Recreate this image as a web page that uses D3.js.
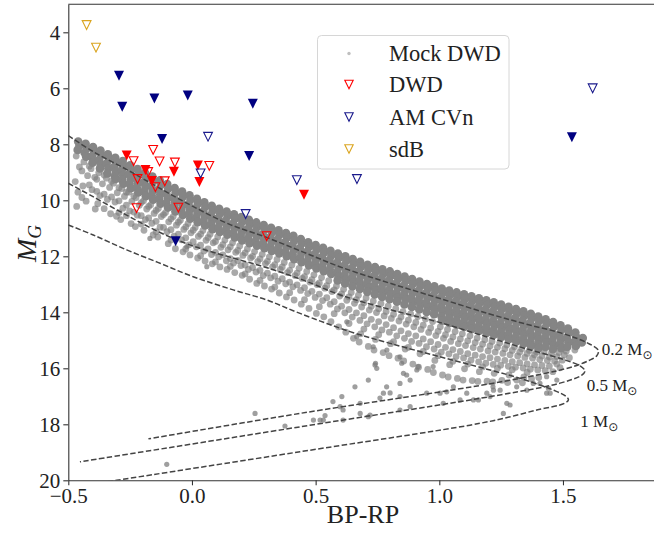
<!DOCTYPE html>
<html>
<head>
<meta charset="utf-8">
<script src="https://cdn.jsdelivr.net/npm/d3@7"></script>
<style>
  body { margin: 0; background: #fff; }
  svg { display: block; }
  text { font-family: "Liberation Serif", "DejaVu Serif", serif; }
</style>
</head>
<body>
<svg width="654" height="537"></svg>
<script>
// ---- data: [BP-RP, M_G] ----
var xTicks = [-0.5, 0.0, 0.5, 1.0, 1.5];
var yTicks = [4, 6, 8, 10, 12, 14, 16, 18, 20];

var sdB = [[-0.426, 3.74], [-0.388, 4.55]];
var amcvnFilled = [[-0.295, 5.55], [-0.282, 6.66], [-0.152, 6.36], [-0.017, 6.26], [0.246, 6.55],
  [-0.121, 7.81], [0.231, 8.42], [-0.066, 11.46], [1.536, 7.75]];
var amcvnOpen = [[1.62, 6.0], [0.667, 9.24], [0.065, 7.73], [0.035, 9.04], [0.217, 10.49], [0.424, 9.28]];
var dwdFilled = [[-0.264, 8.40], [-0.188, 8.92], [-0.162, 9.31], [-0.073, 8.98], [0.024, 8.76],
  [0.030, 9.35], [0.453, 9.80]];
var dwdOpen = [[-0.236, 8.60], [-0.157, 8.20], [-0.131, 8.61], [-0.069, 8.65], [0.070, 8.77],
  [-0.220, 9.24], [-0.110, 9.32], [-0.148, 9.53], [-0.224, 10.28], [-0.055, 10.26],
  [0.302, 11.28], [-0.177, 8.99]];

// cooling tracks (dashed)
var track02 = [[-0.5, 7.69], [-0.40, 8.26], [-0.26, 8.92], [-0.13, 9.57], [0.0, 10.2], [0.15, 10.85],
  [0.30, 11.32], [0.45, 11.85], [0.60, 12.38], [0.80, 12.96], [1.0, 13.5], [1.2, 14.05], [1.35, 14.42],
  [1.5, 14.76], [1.6, 15.1], [1.643, 15.36], [1.636, 15.56], [1.605, 15.72], [1.529, 15.97],
  [1.245, 16.49], [0.437, 17.61], [-0.176, 18.52]];
var track05 = [[-0.5, 9.39], [-0.40, 9.87], [-0.264, 10.53], [-0.129, 11.15], [0.0, 11.62], [0.15, 12.02],
  [0.30, 12.4], [0.45, 12.85], [0.60, 13.38], [0.80, 13.9], [1.0, 14.36], [1.2, 14.9], [1.35, 15.3],
  [1.5, 15.68], [1.572, 15.93], [1.589, 16.10], [1.575, 16.25], [1.488, 16.53], [1.245, 16.95],
  [0.437, 18.09], [-0.453, 19.34]];
var track10 = [[-0.5, 10.88], [-0.399, 11.24], [-0.264, 11.77], [-0.129, 12.25], [0.005, 12.73],
  [0.167, 13.20], [0.302, 13.56], [0.437, 14.04], [0.639, 14.69], [0.801, 15.11], [1.003, 15.59],
  [1.205, 16.06], [1.327, 16.36], [1.461, 16.78], [1.512, 17.0], [1.522, 17.13], [1.506, 17.25],
  [1.394, 17.49], [1.259, 17.79], [1.124, 18.03], [0.437, 18.98], [-0.304, 20.0], [-0.41, 20.15]];
var trackLabels = [["0.2", 1.657, 15.52], ["0.5", 1.596, 16.81], ["1", 1.570, 18.09]];

// mock DWD population: dense band
var mockCore = [
  [-0.46,7.9],[-0.455,8.05],[-0.462,8.2],
  [-0.43,7.98],[-0.425,8.14],[-0.434,8.3],[-0.428,8.44],
  [-0.40,8.1],[-0.395,8.27],[-0.405,8.43],[-0.398,8.6],[-0.402,8.66],
  [-0.37,8.22],[-0.366,8.38],[-0.375,8.55],[-0.368,8.72],[-0.372,8.86],
  [-0.34,8.36],[-0.336,8.52],[-0.345,8.69],[-0.338,8.86],[-0.342,9.04],
  [-0.31,8.48],[-0.305,8.64],[-0.314,8.8],[-0.307,8.98],[-0.312,9.14],[-0.309,9.24],
  [-0.28,8.6],[-0.276,8.77],[-0.284,8.93],[-0.278,9.1],[-0.283,9.27],[-0.277,9.41],
  [-0.25,8.75],[-0.246,8.91],[-0.255,9.07],[-0.248,9.24],[-0.252,9.41],[-0.247,9.57],
  [-0.22,8.88],[-0.216,9.04],[-0.224,9.21],[-0.218,9.38],[-0.223,9.55],[-0.217,9.72],
  [-0.19,9.02],[-0.186,9.18],[-0.194,9.35],[-0.188,9.52],[-0.193,9.68],[-0.187,9.85],
  [-0.16,9.15],[-0.156,9.31],[-0.164,9.48],[-0.158,9.65],[-0.163,9.82],[-0.157,9.98],
  [-0.13,9.29],[-0.126,9.45],[-0.134,9.62],[-0.128,9.78],[-0.133,9.95],[-0.127,10.12],
  [-0.10,9.42],[-0.096,9.58],[-0.104,9.75],[-0.098,9.92],[-0.103,10.09],[-0.097,10.26],
  [-0.07,9.56],[-0.066,9.72],[-0.074,9.89],[-0.068,10.06],[-0.073,10.23],[-0.067,10.4],
  [-0.04,9.69],[-0.036,9.85],[-0.044,10.02],[-0.038,10.18],[-0.043,10.35],[-0.037,10.52],
  [-0.01,9.82],[-0.006,9.98],[-0.014,10.15],[-0.008,10.32],[-0.013,10.49],[-0.007,10.66],
  [0.02,9.95],[0.024,10.11],[0.016,10.28],[0.022,10.45],[0.017,10.62],[0.023,10.78],
  [0.05,10.07],[0.054,10.23],[0.046,10.4],[0.052,10.57],[0.047,10.74],[0.053,10.9],
  [0.08,10.2],[0.084,10.36],[0.076,10.53],[0.082,10.7],[0.077,10.87],[0.083,11.03],
  [0.11,10.3],[0.114,10.46],[0.106,10.63],[0.112,10.8],[0.107,10.97],[0.113,11.13],
  [0.14,10.4],[0.144,10.56],[0.136,10.73],[0.142,10.9],[0.137,11.07],[0.143,11.23],
  [0.17,10.5],[0.174,10.66],[0.166,10.83],[0.172,11.0],[0.167,11.17],[0.173,11.33],
  [0.20,10.6],[0.204,10.76],[0.196,10.93],[0.202,11.1],[0.197,11.27],[0.203,11.43],
  [0.23,10.7],[0.234,10.86],[0.226,11.03],[0.232,11.2],[0.227,11.37],[0.233,11.53],
  [0.26,10.79],[0.264,10.95],[0.256,11.12],[0.262,11.29],[0.257,11.46],[0.263,11.62],
  [0.29,10.88],[0.294,11.04],[0.286,11.21],[0.292,11.38],[0.287,11.55],[0.293,11.71],
  [0.32,10.98],[0.324,11.14],[0.316,11.31],[0.322,11.48],[0.317,11.65],[0.323,11.81],
  [0.35,11.07],[0.354,11.23],[0.346,11.4],[0.352,11.57],[0.347,11.74],[0.353,11.9],
  [0.38,11.17],[0.384,11.33],[0.376,11.5],[0.382,11.67],[0.377,11.84],[0.383,12.0],
  [0.41,11.27],[0.414,11.43],[0.406,11.6],[0.412,11.77],[0.407,11.94],[0.413,12.1],
  [0.44,11.38],[0.444,11.54],[0.436,11.71],[0.442,11.88],[0.437,12.05],[0.443,12.21],
  [0.47,11.5],[0.474,11.66],[0.466,11.83],[0.472,12.0],[0.467,12.17],[0.473,12.33],
  [0.50,11.6],[0.504,11.76],[0.496,11.93],[0.502,12.1],[0.497,12.27],[0.503,12.43],
  [0.53,11.7],[0.534,11.86],[0.526,12.03],[0.532,12.2],[0.527,12.37],[0.533,12.53],
  [0.56,11.8],[0.564,11.96],[0.556,12.13],[0.562,12.3],[0.557,12.47],[0.563,12.63],
  [0.59,11.9],[0.594,12.06],[0.586,12.23],[0.592,12.4],[0.587,12.57],[0.593,12.73],[0.589,12.86],
  [0.62,12.0],[0.624,12.16],[0.616,12.33],[0.622,12.5],[0.617,12.67],[0.623,12.83],[0.619,12.97],
  [0.65,12.1],[0.654,12.26],[0.646,12.43],[0.652,12.6],[0.647,12.77],[0.653,12.93],[0.649,13.07],
  [0.68,12.2],[0.684,12.36],[0.676,12.53],[0.682,12.7],[0.677,12.87],[0.683,13.03],[0.679,13.17],
  [0.71,12.3],[0.714,12.46],[0.706,12.63],[0.712,12.8],[0.707,12.97],[0.713,13.13],[0.709,13.27],
  [0.74,12.38],[0.744,12.54],[0.736,12.71],[0.742,12.88],[0.737,13.05],[0.743,13.21],[0.739,13.36],
  [0.77,12.46],[0.774,12.62],[0.766,12.79],[0.772,12.96],[0.767,13.13],[0.773,13.29],[0.769,13.45],
  [0.80,12.54],[0.804,12.7],[0.796,12.87],[0.802,13.04],[0.797,13.21],[0.803,13.37],[0.799,13.53],
  [0.83,12.63],[0.834,12.79],[0.826,12.96],[0.832,13.13],[0.827,13.3],[0.833,13.46],[0.829,13.62],
  [0.86,12.72],[0.864,12.88],[0.856,13.05],[0.862,13.22],[0.857,13.39],[0.863,13.55],[0.859,13.72],
  [0.89,12.81],[0.894,12.97],[0.886,13.14],[0.892,13.31],[0.887,13.48],[0.893,13.64],[0.889,13.81],
  [0.92,12.9],[0.924,13.06],[0.916,13.23],[0.922,13.4],[0.917,13.57],[0.923,13.73],[0.919,13.9],
  [0.95,12.99],[0.954,13.15],[0.946,13.32],[0.952,13.49],[0.947,13.66],[0.953,13.82],[0.949,13.99],
  [0.98,13.07],[0.984,13.23],[0.976,13.4],[0.982,13.57],[0.977,13.74],[0.983,13.9],[0.979,14.07],
  [1.01,13.15],[1.014,13.31],[1.006,13.48],[1.012,13.65],[1.007,13.82],[1.013,13.98],[1.009,14.15],[1.011,14.3],
  [1.04,13.22],[1.044,13.38],[1.036,13.55],[1.042,13.72],[1.037,13.89],[1.043,14.05],[1.039,14.22],[1.041,14.38],
  [1.07,13.29],[1.074,13.45],[1.066,13.62],[1.072,13.79],[1.067,13.96],[1.073,14.12],[1.069,14.29],[1.071,14.45],
  [1.10,13.36],[1.104,13.52],[1.096,13.69],[1.102,13.86],[1.097,14.03],[1.103,14.19],[1.099,14.36],[1.101,14.52],
  [1.13,13.43],[1.134,13.59],[1.126,13.76],[1.132,13.93],[1.127,14.1],[1.133,14.26],[1.129,14.43],[1.131,14.6],
  [1.16,13.5],[1.164,13.66],[1.156,13.83],[1.162,14.0],[1.157,14.17],[1.163,14.33],[1.159,14.5],[1.161,14.67],
  [1.19,13.57],[1.194,13.73],[1.186,13.9],[1.192,14.07],[1.187,14.24],[1.193,14.4],[1.189,14.57],[1.191,14.74],
  [1.22,13.64],[1.224,13.8],[1.216,13.97],[1.222,14.14],[1.217,14.31],[1.223,14.47],[1.219,14.64],[1.221,14.8],
  [1.25,13.72],[1.254,13.88],[1.246,14.05],[1.252,14.22],[1.247,14.39],[1.253,14.55],[1.249,14.72],[1.251,14.88],
  [1.28,13.8],[1.284,13.96],[1.276,14.13],[1.282,14.3],[1.277,14.47],[1.283,14.63],[1.279,14.8],[1.281,14.96],
  [1.31,13.88],[1.314,14.04],[1.306,14.21],[1.312,14.38],[1.307,14.55],[1.313,14.71],[1.309,14.88],[1.311,15.04],
  [1.34,13.96],[1.344,14.12],[1.336,14.29],[1.342,14.46],[1.337,14.63],[1.343,14.79],[1.339,14.96],[1.341,15.12],
  [1.37,14.05],[1.374,14.21],[1.366,14.38],[1.372,14.55],[1.367,14.72],[1.373,14.88],[1.369,15.05],[1.371,15.2],
  [1.40,14.15],[1.404,14.31],[1.396,14.48],[1.402,14.65],[1.397,14.82],[1.403,14.98],[1.399,15.15],[1.401,15.28],
  [1.43,14.25],[1.434,14.41],[1.426,14.58],[1.432,14.75],[1.427,14.92],[1.433,15.08],[1.429,15.24],
  [1.46,14.35],[1.464,14.51],[1.456,14.68],[1.462,14.85],[1.457,15.02],[1.463,15.18],[1.459,15.32],
  [1.49,14.46],[1.494,14.62],[1.486,14.79],[1.492,14.96],[1.487,15.13],[1.493,15.28],
  [1.52,14.58],[1.524,14.74],[1.516,14.91],[1.522,15.08],[1.517,15.24],
  [1.55,14.72],[1.554,14.88],[1.546,15.05],[1.552,15.2],
  [1.58,14.92],[1.576,15.08]
];

// mock DWD population: looser halo under the band
var mockHalo = [
  [-0.468,8.42],[-0.455,8.81],[-0.472,9.33],[-0.461,9.71],[-0.466,10.22],
  [-0.437,8.63],[-0.422,9.12],[-0.441,9.49],[-0.428,10.03],
  [-0.408,8.87],[-0.393,9.18],[-0.404,9.62],[-0.391,10.31],
  [-0.377,9.02],[-0.362,9.41],[-0.372,9.83],[-0.381,10.12],
  [-0.346,9.21],[-0.333,9.54],[-0.342,9.97],[-0.329,10.48],
  [-0.317,9.39],[-0.302,9.73],[-0.311,10.06],[-0.305,10.57],
  [-0.284,9.58],[-0.273,9.86],[-0.279,10.28],[-0.288,10.69],
  [-0.256,9.71],[-0.243,10.04],[-0.252,10.38],[-0.246,10.83],
  [-0.226,9.9],[-0.213,10.18],[-0.221,10.53],[-0.229,10.94],
  [-0.196,10.02],[-0.183,10.31],[-0.188,10.69],[-0.194,11.07],
  [-0.167,10.16],[-0.153,10.47],[-0.162,10.82],[-0.157,11.24],
  [-0.136,10.29],[-0.124,10.58],[-0.129,10.96],[-0.138,11.31],
  [-0.107,10.44],[-0.094,10.77],[-0.101,11.12],[-0.096,11.55],
  [-0.076,10.58],[-0.063,10.89],[-0.072,11.28],[-0.067,11.73],
  [-0.047,10.71],[-0.033,11.04],[-0.042,11.41],[-0.036,11.84],
  [-0.016,10.83],[-0.004,11.16],[-0.012,11.59],[-0.008,11.95],
  [0.013,10.97],[0.026,11.29],[0.018,11.66],[0.023,12.06],
  [0.044,11.08],[0.057,11.43],[0.048,11.81],[0.053,12.17],
  [0.073,11.21],[0.086,11.52],[0.079,11.94],[0.082,12.27],
  [0.104,11.31],[0.117,11.68],[0.108,12.02],[0.113,12.38],
  [0.133,11.42],[0.146,11.77],[0.139,12.16],[0.142,12.47],
  [0.164,11.52],[0.177,11.86],[0.168,12.24],[0.173,12.58],
  [0.193,11.63],[0.206,11.97],[0.198,12.33],[0.203,12.68],
  [0.224,11.74],[0.237,12.06],[0.228,12.47],[0.233,12.82],
  [0.253,11.83],[0.266,12.19],[0.259,12.56],[0.262,12.97],
  [0.284,11.93],[0.297,12.26],[0.288,12.69],[0.293,13.06],
  [0.313,12.02],[0.326,12.38],[0.318,12.77],[0.322,13.17],
  [0.344,12.11],[0.357,12.47],[0.348,12.89],[0.353,13.31],
  [0.373,12.22],[0.386,12.58],[0.379,12.98],[0.382,13.45],
  [0.404,12.31],[0.417,12.69],[0.408,13.09],[0.413,13.56],
  [0.433,12.43],[0.446,12.79],[0.439,13.22],[0.442,13.71],
  [0.464,12.54],[0.477,12.92],[0.468,13.33],[0.473,13.86],
  [0.493,12.66],[0.506,13.01],[0.498,13.47],[0.503,14.04],
  [0.524,12.76],[0.537,13.14],[0.528,13.58],[0.533,14.16],
  [0.553,12.87],[0.566,13.26],[0.559,13.71],[0.562,14.33],
  [0.584,13.06],[0.597,13.42],[0.588,13.88],[0.593,14.52],
  [0.613,13.18],[0.626,13.57],[0.618,14.02],[0.622,14.71],
  [0.644,13.29],[0.657,13.68],[0.648,14.17],[0.653,14.93],
  [0.673,13.39],[0.686,13.81],[0.679,14.29],[0.682,14.77],[0.676,15.06],
  [0.704,13.49],[0.717,13.92],[0.708,14.41],[0.713,15.22],
  [0.733,13.6],[0.746,14.01],[0.739,14.52],[0.742,14.97],[0.736,15.35],
  [0.764,13.69],[0.777,14.13],[0.768,14.63],[0.773,15.44],
  [0.793,13.78],[0.806,14.22],[0.798,14.71],[0.803,15.12],[0.797,15.55],
  [0.824,13.87],[0.837,14.31],[0.828,14.84],[0.833,15.64],
  [0.853,13.98],[0.866,14.42],[0.859,14.93],[0.862,15.31],[0.856,15.74],
  [0.884,14.06],[0.897,14.52],[0.888,15.04],[0.893,15.85],
  [0.913,14.15],[0.926,14.61],[0.918,15.11],[0.922,15.48],[0.916,15.96],
  [0.944,14.24],[0.957,14.72],[0.948,15.23],[0.953,16.04],
  [0.973,14.33],[0.986,14.83],[0.979,15.31],[0.982,15.72],[0.976,16.15],
  [1.004,14.52],[1.017,14.93],[1.008,15.42],[1.013,16.24],
  [1.033,14.61],[1.046,15.04],[1.039,15.49],[1.042,15.87],[1.036,16.31],
  [1.064,14.69],[1.077,15.12],[1.068,15.58],[1.073,16.36],
  [1.093,14.77],[1.106,15.19],[1.098,15.63],[1.102,16.02],[1.096,16.42],
  [1.124,14.84],[1.137,15.26],[1.128,15.71],[1.133,16.44],
  [1.153,14.92],[1.166,15.31],[1.159,15.77],[1.162,16.12],[1.156,16.47],
  [1.184,14.98],[1.197,15.38],[1.188,15.82],[1.193,16.46],
  [1.213,15.04],[1.226,15.42],[1.218,15.86],[1.222,16.18],[1.216,16.49],
  [1.244,15.1],[1.257,15.47],[1.248,15.89],[1.253,16.43],
  [1.273,15.17],[1.286,15.52],[1.279,15.93],[1.282,16.24],[1.276,16.51],
  [1.304,15.23],[1.317,15.56],[1.308,15.96],[1.313,16.42],
  [1.333,15.3],[1.346,15.61],[1.339,15.99],[1.342,16.31],[1.336,16.52],
  [1.364,15.36],[1.377,15.64],[1.368,16.03],[1.373,16.38],
  [1.393,15.42],[1.406,15.69],[1.398,16.06],[1.402,16.33],
  [1.424,15.41],[1.437,15.72],[1.428,16.08],
  [1.453,15.46],[1.466,15.74],[1.459,16.12],
  [1.484,15.44],[1.497,15.71],[1.488,15.98],
  [1.513,15.39],[1.526,15.62],
  [1.548,15.35]
];

// mock DWD population: halo points between the halo columns above
var mockHaloFill = [
  [-0.445,8.95],[-0.445,9.9],[-0.415,8.78],[-0.415,9.45],[-0.385,9.25],[-0.385,9.68],
  [-0.355,9.1],[-0.355,9.78],[-0.355,10.3],[-0.325,9.32],[-0.325,9.88],
  [-0.295,9.55],[-0.295,10.02],[-0.295,10.44],[-0.265,9.71],[-0.265,10.17],[-0.265,10.55],
  [-0.235,9.85],[-0.235,10.42],[-0.205,10.08],[-0.205,10.55],[-0.205,10.85],
  [-0.175,10.22],[-0.175,10.63],[-0.145,10.36],[-0.145,10.75],[-0.145,11.12],
  [-0.115,10.51],[-0.115,10.97],[-0.085,10.66],[-0.085,11.05],[-0.085,11.42],
  [-0.055,10.78],[-0.055,11.21],[-0.025,10.95],[-0.025,11.34],[-0.025,11.74],
  [0.005,11.07],[0.005,11.48],[0.035,11.21],[0.035,11.6],[0.035,11.98],
  [0.065,11.33],[0.065,11.74],[0.095,11.47],[0.095,11.86],[0.095,12.2],
  [0.125,11.58],[0.125,11.95],[0.155,11.66],[0.155,12.08],[0.155,12.36],
  [0.185,11.79],[0.185,12.15],[0.215,11.88],[0.215,12.31],[0.215,12.63],
  [0.245,12.0],[0.245,12.4],[0.275,12.09],[0.275,12.5],[0.275,12.86],
  [0.305,12.18],[0.305,12.6],[0.335,12.3],[0.335,12.71],[0.335,13.1],
  [0.365,12.38],[0.365,12.8],[0.395,12.5],[0.395,12.92],[0.395,13.3],
  [0.425,12.6],[0.425,13.02],[0.455,12.73],[0.455,13.12],[0.455,13.55],
  [0.485,12.83],[0.485,13.25],[0.515,12.95],[0.515,13.35],[0.515,13.8],
  [0.545,13.05],[0.545,13.48],[0.575,13.2],[0.575,13.62],[0.575,14.05],
  [0.605,13.34],[0.605,13.78],[0.635,13.45],[0.635,13.9],[0.635,14.4],
  [0.665,13.55],[0.665,14.02],[0.695,13.66],[0.695,14.12],[0.695,14.6],
  [0.725,13.78],[0.725,14.25],[0.755,13.87],[0.755,14.33],[0.755,14.8],
  [0.785,13.97],[0.785,14.44],[0.815,14.07],[0.815,14.55],[0.815,15.05],
  [0.845,14.17],[0.845,14.66],[0.875,14.28],[0.875,14.76],[0.875,15.25],
  [0.905,14.36],[0.905,14.84],[0.935,14.46],[0.935,14.95],[0.935,15.4],
  [0.965,14.56],[0.965,15.05],[0.995,14.68],[0.995,15.15],[0.995,15.55],
  [1.025,14.8],[1.025,15.25],[1.055,14.88],[1.055,15.33],[1.055,15.75],
  [1.085,14.95],[1.085,15.4],[1.115,15.02],[1.115,15.48],[1.115,15.85],
  [1.145,15.08],[1.145,15.53],[1.175,15.14],[1.175,15.58],[1.175,15.95],
  [1.205,15.2],[1.205,15.62],[1.235,15.25],[1.235,15.67],[1.235,16.0],
  [1.265,15.3],[1.265,15.72],[1.295,15.36],[1.295,15.76],[1.295,16.05],
  [1.325,15.42],[1.325,15.8],[1.355,15.47],[1.355,15.84],[1.355,16.15],
  [1.385,15.52],[1.385,15.88],[1.415,15.56],[1.415,15.9],[1.445,15.6],[1.445,15.92],
  [1.475,15.58],[1.475,15.85],[1.505,15.52]
];

// mock DWD population: scattered faint stragglers
var mockTail = [
  [-0.17,11.36],[-0.021,11.66],[0.06,12.37],[0.742,15.82],[0.747,16.0],[0.713,16.42],[0.659,16.66],
  [0.606,17.01],[0.599,17.37],[0.531,17.85],[0.68,17.25],[0.68,17.61],[0.713,17.73],[0.787,16.66],
  [0.774,16.89],[0.841,16.54],[0.882,16.42],[0.855,16.18],[0.915,15.94],[0.841,17.01],[0.882,17.37],
  [0.841,17.49],[0.949,16.89],[1.016,17.25],[1.003,16.89],[1.057,16.66],[1.111,16.89],[1.084,17.13],
  [1.138,17.13],[1.192,16.89],[1.246,16.78],[1.259,17.61],[1.273,17.25],[1.313,16.66],[1.38,16.54],
  [1.434,16.89],[1.441,16.71],[1.475,16.42],[1.434,16.3],[0.57,17.19],[0.611,17.49],[0.611,17.85],
  [0.72,17.67],[0.76,17.06],[0.801,16.88],[0.868,16.24],[0.909,16.06],[0.975,15.94],[1.03,16.84],
  [1.217,16.66],[0.255,17.61],[0.376,18.06],[-0.102,19.43],[0.518,17.85],[0.538,17.69],[1.286,17.31],
  [1.448,16.89],[1.407,16.54],[1.354,16.78],[1.219,16.78],[1.205,17.01],[1.158,17.13],[0.733,15.23],
  [0.841,15.59],[0.848,15.82],[0.74,15.88],[0.788,15.35],[0.666,14.87],[0.626,14.34],[0.491,17.85]
];

// ---- chart ----
var svg = d3.select("svg"),
    plotLeft = 68.3, plotRight = 654, plotTop = 4.3, plotBottom = 480.3;

var x = d3.scaleLinear().domain([-0.5, 1.868]).range([plotLeft, plotRight]),
    y = d3.scaleLinear().domain([3, 20]).range([plotTop, plotBottom]);

svg.append("defs").append("clipPath").attr("id", "plotclip")
  .append("rect").attr("x", plotLeft).attr("y", plotTop)
  .attr("width", plotRight - plotLeft).attr("height", plotBottom - plotTop);

var plot = svg.append("g").attr("clip-path", "url(#plotclip)");

// mock population: band drawn with broader dots so the dense core reads as solid
function mockDots(data, r, op, color) {
  plot.append("g").selectAll("circle")
    .data(data)
    .enter().append("circle")
      .attr("cx", function(d) { return x(d[0]); })
      .attr("cy", function(d) { return y(d[1]); })
      .attr("r", r)
      .attr("fill", color)
      .attr("fill-opacity", op);
}
mockDots(mockHalo, 3.4, 0.68, "#808080");
mockDots(mockHaloFill, 3.4, 0.68, "#808080");
mockDots(mockTail, 2.6, 0.72, "#7a7a7a");
mockDots(mockCore, 4.3, 1, "#858585");

// tracks
var line = d3.line()
    .x(function(d) { return x(d[0]); })
    .y(function(d) { return y(d[1]); })
    .curve(d3.curveCatmullRom.alpha(0.5));

[track02, track05, track10].forEach(function(t) {
  plot.append("path")
    .attr("d", line(t))
    .attr("fill", "none")
    .attr("stroke", "#444")
    .attr("stroke-width", 1.5)
    .attr("stroke-dasharray", "5.5,2.4");
});

// triangle-down marker
function tri(s) {
  return function(d) {
    var cx = x(d[0]), cy = y(d[1]), h = s / 2;
    return "M" + (cx - h) + "," + (cy - h) + "L" + (cx + h) + "," + (cy - h) + "L" + cx + "," + (cy + h) + "Z";
  };
}

function openMarks(data, color) {
  plot.append("g").selectAll("path").data(data).enter().append("path")
    .attr("d", tri(8.8))
    .attr("fill", "none")
    .attr("stroke", color)
    .attr("stroke-width", 1.1);
}
function filledMarks(data, color) {
  plot.append("g").selectAll("path").data(data).enter().append("path")
    .attr("d", tri(10))
    .attr("fill", color);
}

openMarks(dwdOpen, "#ff0000");
filledMarks(dwdFilled, "#ff0000");
openMarks(amcvnOpen, "#1a1a8c");
filledMarks(amcvnFilled, "#000080");
openMarks(sdB, "#daa520");

// track labels
trackLabels.forEach(function(l) {
  var t = svg.append("text")
    .attr("x", x(l[1]))
    .attr("y", y(l[2]))
    .attr("font-size", 17)
    .attr("fill", "#222");
  t.append("tspan").text(l[0] + " M");
  t.append("tspan").attr("font-size", 12).attr("dy", 4).attr("font-family", "DejaVu Sans").text("\u2299");
});

// axes
var xAxis = svg.append("g")
  .attr("transform", "translate(0," + plotBottom + ")")
  .call(d3.axisBottom(x).tickValues(xTicks).tickFormat(d3.format(".1f")).tickSize(5).tickSizeOuter(0));
var yAxis = svg.append("g")
  .attr("transform", "translate(" + plotLeft + ",0)")
  .call(d3.axisLeft(y).tickValues(yTicks).tickSize(5).tickSizeOuter(0));

[xAxis, yAxis].forEach(function(a) {
  a.select(".domain").attr("stroke", "#333").attr("stroke-width", 1.1);
  a.selectAll(".tick line").attr("stroke", "#333").attr("stroke-width", 1.1);
  a.selectAll(".tick text").attr("font-family", "Liberation Serif, serif").attr("font-size", 21).attr("fill", "#222");
});

svg.append("line")
  .attr("x1", plotLeft).attr("x2", plotRight).attr("y1", plotTop).attr("y2", plotTop)
  .attr("stroke", "#333").attr("stroke-width", 1.1);

// axis labels
svg.append("text")
  .attr("x", 363).attr("y", 523)
  .attr("text-anchor", "middle")
  .attr("font-size", 26)
  .attr("fill", "#222")
  .text("BP-RP");

var yl = svg.append("text")
  .attr("transform", "translate(35.5,243.5) rotate(-90)")
  .attr("text-anchor", "middle")
  .attr("font-size", 28)
  .attr("font-style", "italic")
  .attr("fill", "#222");
yl.append("tspan").text("M");
yl.append("tspan").attr("font-size", 19).attr("dy", 5).text("G");

// legend
var legendItems = [
  {label: "Mock DWD", kind: "dot", color: "#808080"},
  {label: "DWD", kind: "tri", color: "#ff0000"},
  {label: "AM CVn", kind: "tri", color: "#1a1a8c"},
  {label: "sdB", kind: "tri", color: "#daa520"}
];
var lg = svg.append("g");
lg.append("rect")
  .attr("x", 317.5).attr("y", 35.5).attr("width", 191.5).attr("height", 133.5)
  .attr("rx", 4)
  .attr("fill", "#fff").attr("fill-opacity", 0.8)
  .attr("stroke", "#d6d6d6").attr("stroke-width", 1);
var rowY = [53.5, 84.5, 117, 149];
legendItems.forEach(function(it, i) {
  if (it.kind === "dot") {
    lg.append("circle").attr("cx", 349).attr("cy", rowY[i]).attr("r", 1.7)
      .attr("fill", it.color).attr("fill-opacity", 0.5);
  } else {
    var h = 4.2, cx = 349, cy = rowY[i];
    lg.append("path")
      .attr("d", "M" + (cx - h) + "," + (cy - h) + "L" + (cx + h) + "," + (cy - h) + "L" + cx + "," + (cy + h) + "Z")
      .attr("fill", "none").attr("stroke", it.color).attr("stroke-width", 1.1);
  }
  lg.append("text")
    .attr("x", 389).attr("y", rowY[i] + 7.5)
    .attr("font-size", 22.5)
    .attr("fill", "#222")
    .text(it.label);
});
</script>
</body>
</html>
